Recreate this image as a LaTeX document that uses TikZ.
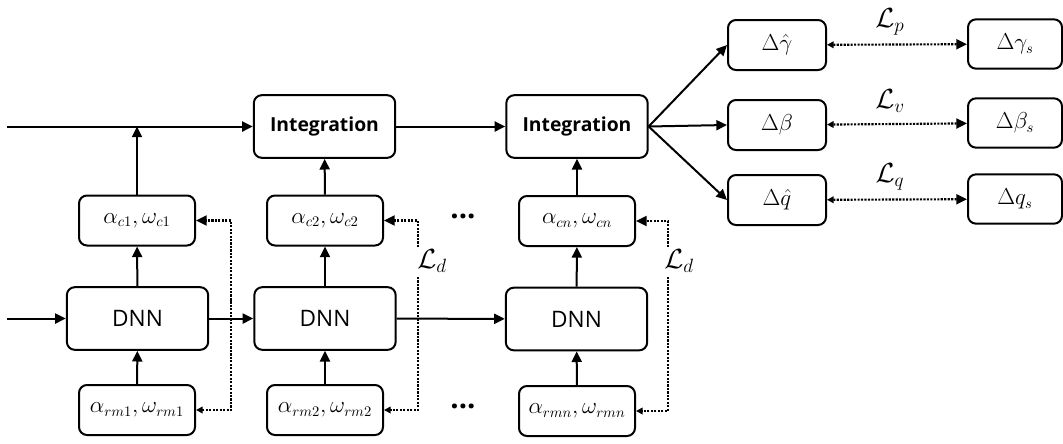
\documentclass[tikz,border=0pt]{standalone}
\usepackage{fontspec}
\setsansfont{Open Sans}
\usetikzlibrary{arrows.meta}
\begin{document}
\begin{tikzpicture}[x=0.75pt,y=-0.75pt,
    blk/.style={draw,line width=1.5pt,rounded corners=6pt,align=center,inner sep=0pt},
    bigblk/.style={blk,minimum width=106pt,minimum height=47pt},
    parblk/.style={blk,minimum width=87pt,minimum height=37.5pt,font=\fontsize{16}{18}\selectfont},
    outblk/.style={blk,minimum width=73.5pt,minimum height=37.5pt,font=\fontsize{16}{18}\selectfont},
    refblk/.style={blk,minimum width=70.5pt,minimum height=37pt,font=\fontsize{16}{18}\selectfont},
    losslabel/.style={font=\fontsize{20}{24}\selectfont},
    flow/.style={line width=1.5pt,-{Triangle[length=8pt,width=7.5pt]}},
    lossflow/.style={line width=1.6pt,densely dotted,{Triangle[length=5pt,width=5pt]}-{Triangle[length=8pt,width=7.5pt]}},
    lossend/.style={line width=1.6pt,densely dotted,-{Triangle[length=8pt,width=7.5pt]}},
    lossstart/.style={line width=1.6pt,densely dotted,-{Triangle[length=5pt,width=5pt]}},
    ]
  \useasboundingbox (0,0) rectangle (1063,443);
  \draw
    (324.5,126.5) node[bigblk,font=\sffamily\bfseries\fontsize{14.5}{18}\selectfont] (int1){Integration}
    (577,126.5) node[bigblk,font=\sffamily\bfseries\fontsize{14.5}{18}\selectfont] (int2){Integration}
    (137,220.5) node[parblk] (c1){$\alpha_{c1},\omega_{c1}$}
    (325,220.5) node[parblk] (c2){$\alpha_{c2},\omega_{c2}$}
    (577,221) node[parblk] (cn){$\alpha_{cn},\omega_{cn}$}
    (137.5,318.5) node[bigblk,font=\sffamily\fontsize{17}{20}\selectfont] (dnn1){DNN}
    (325,318.5) node[bigblk,font=\sffamily\fontsize{17}{20}\selectfont] (dnn2){DNN}
    (576.5,319) node[bigblk,font=\sffamily\fontsize{17}{20}\selectfont] (dnn3){DNN}
    (137,410) node[parblk] (rm1){$\alpha_{rm1},\omega_{rm1}$}
    (325,410) node[parblk] (rm2){$\alpha_{rm2},\omega_{rm2}$}
    (577,411) node[parblk] (rmn){$\alpha_{rmn},\omega_{rmn}$}
    (777,45) node[outblk] (gh){$\Delta\hat{\gamma}$}
    (777,125) node[outblk] (b){$\Delta\beta$}
    (777,200) node[outblk] (qh){$\Delta\hat{q}$}
    (1015,44) node[refblk] (gs){$\Delta\gamma_s$}
    (1015,123) node[refblk] (bs){$\Delta\beta_s$}
    (1015,199) node[refblk] (qs){$\Delta q_s$}
    (890,22) node[losslabel] (lp){$\mathcal{L}_p$}
    (890,101) node[losslabel] (lv){$\mathcal{L}_v$}
    (890,177) node[losslabel] (lq){$\mathcal{L}_q$}
    (432,261) node[losslabel] (ld2){$\mathcal{L}_d$}
    (679,261) node[losslabel] (ldn){$\mathcal{L}_d$}
    (463,216) node[font=\sffamily\bfseries\fontsize{22}{24}\selectfont] (dots1){...}
    (463,406) node[font=\sffamily\bfseries\fontsize{22}{24}\selectfont] (dots2){...};
  \coordinate (in1) at (7,126.5);
  \coordinate (in2) at (7,318.5);
  \coordinate (l1) at (231,300);
  \coordinate (d2a) at (418,247);
  \coordinate (d2b) at (418,277);
  \coordinate (dna) at (668,247);
  \coordinate (dnb) at (668,277);
  \begin{scope}[flow]
    \draw (in1) to (int1);
    \draw (int1) to (int2);
    \draw (in2) to (dnn1);
    \draw (dnn1) to (dnn2);
    \draw (dnn2) to (dnn3);
    \draw (c1) to (c1 |- in1);
    \draw (c2) to (int1);
    \draw (cn) to (int2);
    \draw (dnn1) to (c1);
    \draw (dnn2) to (c2);
    \draw (dnn3) to (cn);
    \draw (rm1) to (dnn1);
    \draw (rm2) to (dnn2);
    \draw (rmn) to (dnn3);
    \draw (int2.east) to (gh.west);
    \draw (int2.east) to (b.west);
    \draw (int2.east) to (qh.west);
  \end{scope}
  \begin{scope}
    \draw[lossflow] (rm1.east) -| (l1) |- (c1.east);
    \draw[lossend] (d2a) |- (c2.east);
    \draw[lossstart] (d2b) |- (rm2.east);
    \draw[lossend] (dna) |- (cn.east);
    \draw[lossstart] (dnb) |- (rmn.east);
    \draw[lossflow] (gh) to (gs);
    \draw[lossflow] (b) to (bs);
    \draw[lossflow] (qh) to (qs);
  \end{scope}
\end{tikzpicture}
\end{document}
